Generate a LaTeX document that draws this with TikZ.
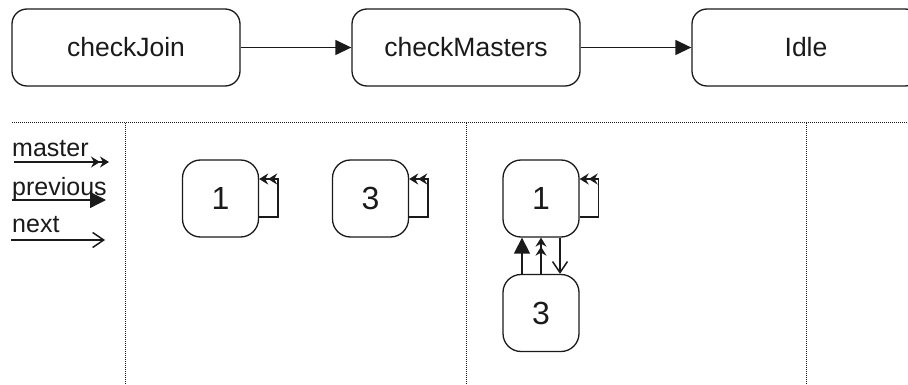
\documentclass[tikz,border=0pt]{standalone}
\usepackage{fontspec}
\setmainfont{Liberation Sans}
\usetikzlibrary{arrows.meta,calc}
\definecolor{ink}{HTML}{1A1A1A}
\begin{document}
\begin{tikzpicture}[x=1pt,y=-1pt,
  topbox/.style={draw=ink,line width=1.3pt,rounded corners=15pt,minimum width=228pt,minimum height=77pt,inner sep=0pt,font=\fontsize{26.5}{30}\selectfont,text=ink},
  smallbox/.style={draw=ink,line width=1.3pt,rounded corners=18pt,minimum width=76pt,minimum height=77pt,inner sep=0pt,font=\fontsize{32}{36}\selectfont,text=ink},
  legendtext/.style={anchor=base west,inner sep=0pt,font=\fontsize{25}{30}\selectfont,text=ink},
  toparrow/.style={draw=ink,line width=1.3pt,-{Triangle[length=16pt,width=15pt]}},
  masterarrow/.style={draw=ink,line width=1.4pt,-{Stealth[length=9pt,width=11pt,inset=3pt]Stealth[length=9pt,width=11pt,inset=3pt]}},
  prevarrow/.style={draw=ink,line width=1.4pt,-{Triangle[length=16pt,width=16pt]}},
  nextarrow/.style={draw=ink,line width=1.5pt,-{Straight Barb[length=11pt,width=15pt,line width=1.5pt]}},
  divider/.style={draw=ink,line width=1pt,dash pattern=on 1pt off 1pt}
]
\useasboundingbox (0,0) rectangle (908,385);
\clip (0,0) rectangle (908,385);
% top states
\node[topbox] (cj) at (126,47.5) {checkJoin};
\node[topbox] (cm) at (466,47.5) {checkMasters};
\node[topbox] (idle) at (806,47.5) {Idle};
\draw[toparrow] (cj) -- (cm);
\draw[toparrow] (cm) -- (idle);
% dividers
\coordinate (hl) at (12,123);
\coordinate (hr) at (908,123);
\draw[divider] (hl) -- (hr);
\foreach \x/\n in {125/a,466/b,806/c}{
  \coordinate (vt\n) at (\x,123);
  \coordinate (vb\n) at (\x,385);
  \draw[divider] (vt\n) -- (vb\n);
}
% legend
\node[legendtext] (lm) at (12,157) {master};
\node[legendtext] (lp) at (12,195) {previous};
\node[legendtext] (ln) at (12,232) {next};
\coordinate (lm1) at (14,162); \coordinate (lm2) at (109,162);
\coordinate (lp1) at (12,200); \coordinate (lp2) at (106,200);
\coordinate (ln1) at (11,240); \coordinate (ln2) at (105,240);
\draw[masterarrow] (lm1) -- (lm2);
\draw[prevarrow] (lp1) -- (lp2);
\draw[nextarrow] (ln1) -- (ln2);
% section 1
\node[smallbox] (a1) at (220.5,198.5) {1};
\node[smallbox] (a3) at (370.5,198.5) {3};
\draw[masterarrow] ($(a1.east)+(0,18.5)$) -- ++(19,0) -- ++(0,-38) -- ($(a1.east)+(0,-19.5)$);
\draw[masterarrow] ($(a3.east)+(0,18.5)$) -- ++(19,0) -- ++(0,-38) -- ($(a3.east)+(0,-19.5)$);
% section 2
\node[smallbox] (b1) at (541,198.5) {1};
\node[smallbox] (b3) at (541,313) {3};
\draw[masterarrow] ($(b1.east)+(0,18.5)$) -- ++(19,0) -- ++(0,-38) -- ($(b1.east)+(0,-19.5)$);
\draw[prevarrow] ($(b3.north)+(-19,0)$) -- ($(b1.south)+(-19,0)$);
\draw[masterarrow] (b3.north) -- (b1.south);
\draw[nextarrow] ($(b1.south)+(19,0)$) -- ($(b3.north)+(19,0)$);
\end{tikzpicture}
\end{document}
